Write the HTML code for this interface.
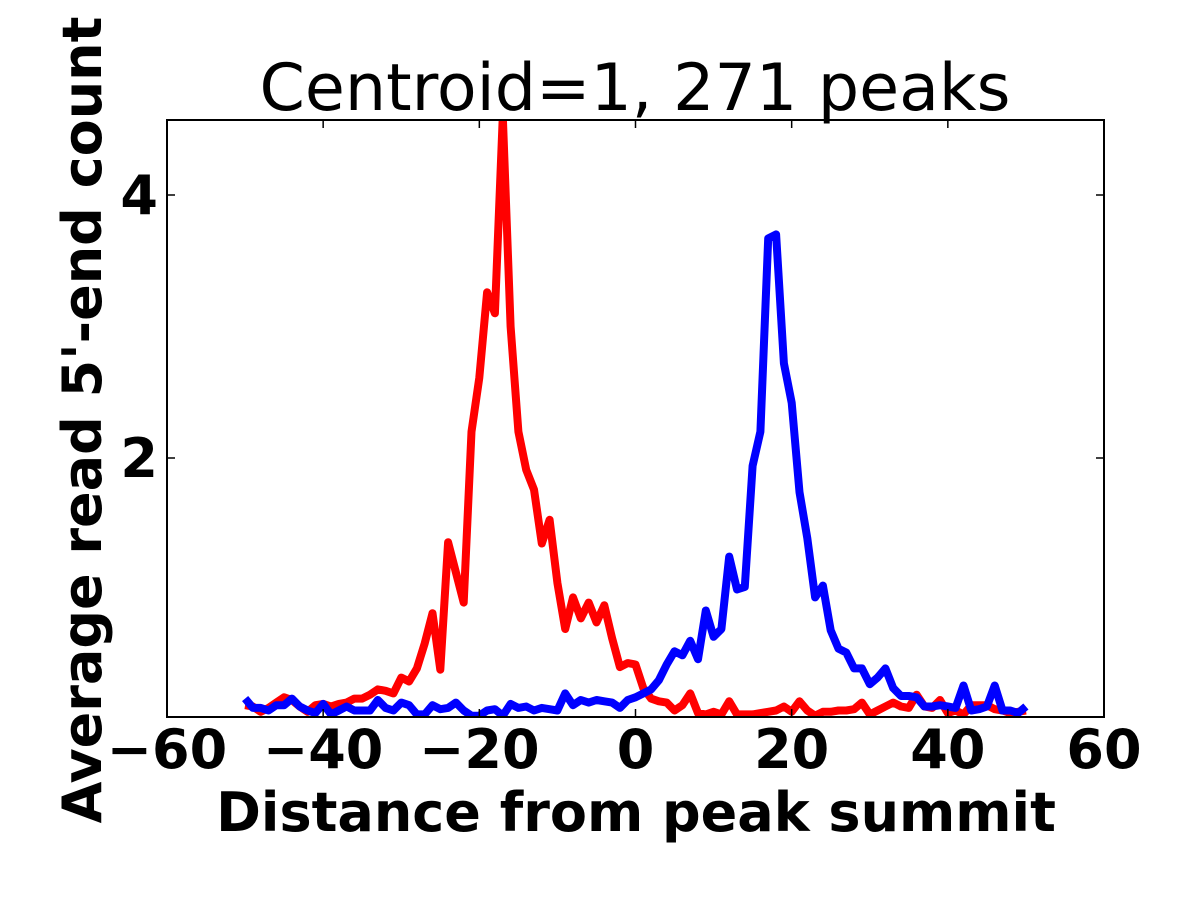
<!DOCTYPE html>
<html><head><meta charset="utf-8"><style>
html,body{margin:0;padding:0;background:#fff;}
svg{display:block;font-family:"DejaVu Sans","Liberation Sans",sans-serif;}
</style></head><body>
<svg id="chart" width="1200" height="900" viewBox="0 0 1200 900" xmlns="http://www.w3.org/2000/svg">
<rect width="1200" height="900" fill="#fff"/>
<defs><clipPath id="plotclip"><rect x="167" y="120" width="937" height="597"/></clipPath></defs>
<text x="635" y="110" font-size="65" text-anchor="middle">Centroid=1, 271 peaks</text>
<g id="series" clip-path="url(#plotclip)"></g>
<rect x="167" y="120" width="937" height="597" fill="none" stroke="#000" stroke-width="2"/>
<g id="ticks"></g>
<text x="636" y="831" font-size="54" font-weight="bold" text-anchor="middle">Distance from peak summit</text>
<text transform="translate(101,420) rotate(-90)" font-size="54" font-weight="bold" text-anchor="middle">Average read 5'-end count</text>
</svg>
<script>
const xTicks=[-60,-40,-20,0,20,40,60];
const xTickLabels=["\u221260","\u221240","\u221220","0","20","40","60"];
const yTicks=[2,4];
const yTickLabels=["2","4"];
const redSeries=[0.12,0.11,0.07,0.10,0.14,0.18,0.16,0.11,0.07,0.12,0.13,0.11,0.13,0.14,0.17,0.17,0.2,0.24,0.23,0.21,0.33,0.3,0.4,0.59,0.82,0.39,1.36,1.13,0.9,2.2,2.61,3.26,3.1,4.6,3.0,2.2,1.91,1.76,1.35,1.53,1.05,0.7,0.94,0.78,0.9,0.75,0.88,0.63,0.41,0.44,0.43,0.25,0.17,0.15,0.14,0.08,0.12,0.21,0.06,0.05,0.07,0.05,0.15,0.05,0.05,0.05,0.06,0.07,0.08,0.11,0.07,0.15,0.08,0.04,0.07,0.07,0.08,0.08,0.09,0.14,0.05,0.08,0.11,0.14,0.11,0.1,0.2,0.11,0.1,0.16,0.06,0.08,0.05,0.12,0.12,0.12,0.09,0.08,0.06,0.07,0.08];
const blueSeries=[0.17,0.1,0.1,0.08,0.12,0.12,0.17,0.11,0.08,0.06,0.13,0.05,0.08,0.11,0.08,0.08,0.08,0.16,0.1,0.08,0.14,0.12,0.05,0.05,0.12,0.09,0.1,0.14,0.08,0.04,0.04,0.08,0.09,0.04,0.13,0.1,0.11,0.08,0.1,0.09,0.08,0.21,0.12,0.16,0.14,0.16,0.15,0.14,0.1,0.16,0.18,0.21,0.24,0.31,0.43,0.53,0.5,0.61,0.47,0.84,0.64,0.7,1.25,1.0,1.02,1.94,2.2,3.67,3.7,2.72,2.42,1.74,1.39,0.94,1.03,0.69,0.55,0.52,0.4,0.4,0.28,0.33,0.4,0.25,0.19,0.19,0.18,0.11,0.11,0.12,0.11,0.1,0.27,0.08,0.09,0.11,0.27,0.08,0.08,0.06,0.11];
const xStart=-50;
const NS="http://www.w3.org/2000/svg";
function xs(v){return 167+(v+60)*(937/120);}
function ys(v){return 721-v*131.5;}
const seriesG=document.getElementById('series');
function drawLine(vals,color,name){
  const pts=vals.map((v,i)=>xs(xStart+i).toFixed(1)+","+ys(v).toFixed(1)).join(" ");
  const pl=document.createElementNS(NS,'polyline');
  pl.setAttribute('points',pts);
  pl.setAttribute('fill','none');
  pl.setAttribute('stroke',color);
  pl.setAttribute('stroke-width','8');
  pl.setAttribute('stroke-linejoin','round');
  
  
  seriesG.appendChild(pl);
}
drawLine(redSeries,'#ff0000','red-series-line');
drawLine(blueSeries,'#0000ff','blue-series-line');
const tg=document.getElementById('ticks');
xTicks.forEach((t,i)=>{
  const x=xs(t);
  [[717,709],[120,128]].forEach(p=>{
    const l=document.createElementNS(NS,'line');
    l.setAttribute('x1',x);l.setAttribute('x2',x);l.setAttribute('y1',p[0]);l.setAttribute('y2',p[1]);
    l.setAttribute('stroke','#000');l.setAttribute('stroke-width','1.5');
    
    
    tg.appendChild(l);
  });
  const tx=document.createElementNS(NS,'text');
  tx.setAttribute('x',x);tx.setAttribute('y',768);
  tx.setAttribute('font-size','54');tx.setAttribute('font-weight','bold');tx.setAttribute('text-anchor','middle');
  tx.textContent=xTickLabels[i];
  
  
  tg.appendChild(tx);
});
yTicks.forEach((t,i)=>{
  const y=ys(t);
  [[167,175],[1104,1096]].forEach(p=>{
    const l=document.createElementNS(NS,'line');
    l.setAttribute('x1',p[0]);l.setAttribute('x2',p[1]);l.setAttribute('y1',y);l.setAttribute('y2',y);
    l.setAttribute('stroke','#000');l.setAttribute('stroke-width','1.5');
    
    
    tg.appendChild(l);
  });
  const tx=document.createElementNS(NS,'text');
  tx.setAttribute('x',158);tx.setAttribute('y',y+19);
  tx.setAttribute('font-size','54');tx.setAttribute('font-weight','bold');tx.setAttribute('text-anchor','end');
  tx.textContent=yTickLabels[i];
  
  
  tg.appendChild(tx);
});
</script>
</body></html>
